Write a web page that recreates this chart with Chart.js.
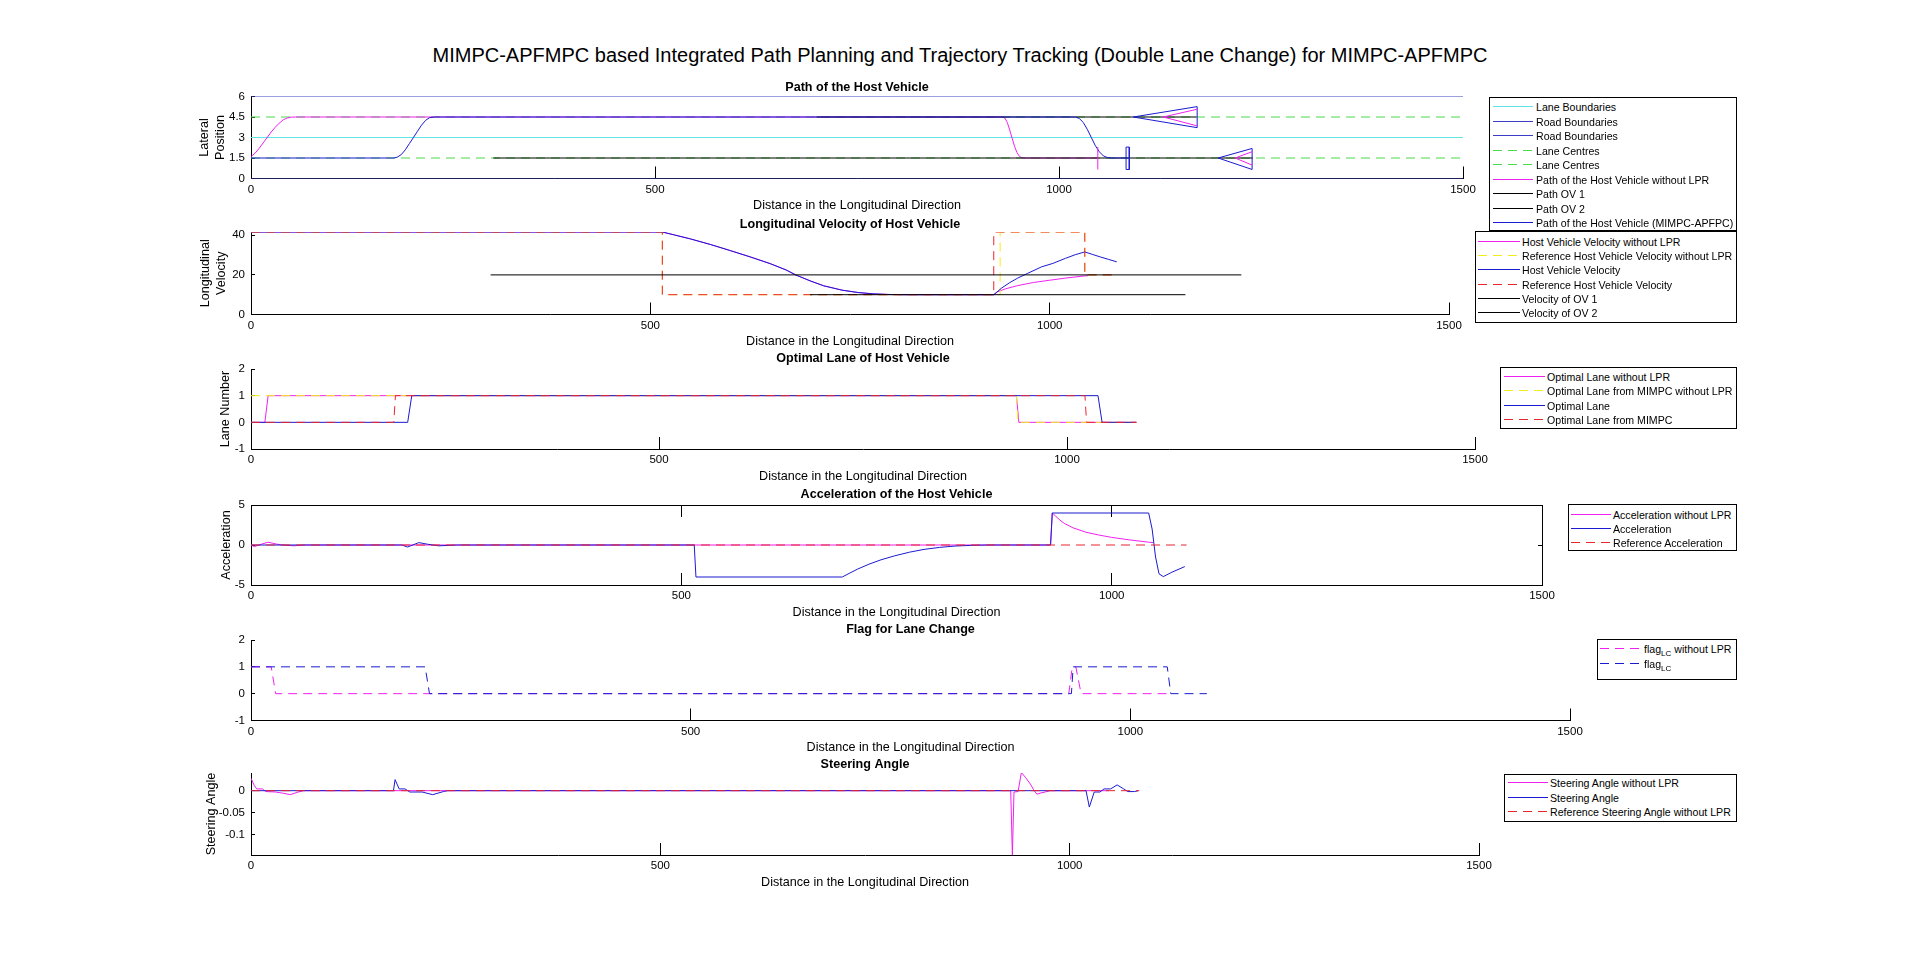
<!DOCTYPE html>
<html>
<head>
<meta charset="utf-8">
<script src="https://cdn.jsdelivr.net/npm/chart.js@4/dist/chart.umd.min.js"></script>
<style>
  html, body { margin:0; padding:0; background:#fff; }
  body { width:1920px; height:971px; overflow:hidden; position:relative; font-family:"Liberation Sans", Arial, Helvetica, sans-serif; }
  canvas.sp { position:absolute; left:0; top:0; }
  #mainTitle { position:absolute; left:0; top:42px; width:1920px; text-align:center; font-size:20px; line-height:26px; color:#000; }
  .legend { position:absolute; box-sizing:border-box; border:1px solid #000; background:#fff; font-size:10.6px; color:#000; }
  .legend span { position:absolute; white-space:nowrap; line-height:14px; }
  .legend sub { font-size:8px; vertical-align:-3px; line-height:0; }
</style>
</head>
<body>
<div id="mainTitle">MIMPC-APFMPC based Integrated Path Planning and Trajectory Tracking (Double Lane Change) for MIMPC-APFMPC</div>
<script>
// ---------------- data ----------------
const xTicks = [0, 500, 1000, 1500];

// Subplot 1: Path of the Host Vehicle
const yTicksPath = [0, 1.5, 3, 4.5, 6];
const roadX = [0, 1500];
const laneBoundaryY = [3, 3];
const roadBoundaryLowY = [0, 0];
const roadBoundaryHighY = [6, 6];
const laneCentreLowY = [1.5, 1.5];
const laneCentreHighY = [4.5, 4.5];
const pathNoLprX = [0, 5, 10, 15, 20, 25, 30, 35, 40, 45, 50, 55, 930, 933, 936, 939, 942, 945, 948, 951, 954, 957, 1048];
const pathNoLprY = [1.6, 1.85, 2.2, 2.6, 3.0, 3.4, 3.75, 4.05, 4.3, 4.43, 4.49, 4.5, 4.5, 4.42, 4.1, 3.55, 2.95, 2.35, 1.9, 1.62, 1.52, 1.5, 1.5];
const pathOv1X = [300, 1240];
const pathOv1Y = [1.5, 1.5];
const pathOv2X = [700, 1170];
const pathOv2Y = [4.5, 4.5];
const pathHostX = [0, 177, 181, 186, 191, 196, 201, 206, 211, 216, 221, 227, 1020, 1025, 1030, 1035, 1040, 1045, 1050, 1055, 1060, 1065, 1085];
const pathHostY = [1.5, 1.5, 1.56, 1.75, 2.1, 2.55, 3.0, 3.45, 3.9, 4.25, 4.45, 4.5, 4.5, 4.4, 4.1, 3.6, 3.0, 2.4, 1.95, 1.65, 1.53, 1.5, 1.5];
// vehicle outlines at the end of the runs
const ov2OutlineX = [1171, 1092, 1171, 1171];
const ov2OutlineY = [5.26, 4.5, 3.72, 5.26];
const ov2NoLprX = [1171, 1129, 1171];
const ov2NoLprY = [5.07, 4.5, 3.85];
const ov1OutlineX = [1239, 1197, 1239, 1239];
const ov1OutlineY = [2.2, 1.5, 0.66, 2.2];
const ov1NoLprX = [1239, 1218, 1239];
const ov1NoLprY = [1.96, 1.5, 0.98];
const hostNoLprMarkX = [1048, 1048];
const hostNoLprMarkY = [0.66, 2.3];
const hostMarkX = [1083, 1083, 1087, 1087, 1083];
const hostMarkY = [0.66, 2.3, 2.3, 0.66, 0.66];

// Subplot 2: Longitudinal velocity
const yTicksVel = [0, 20, 40];
const velSharedX = [0, 515, 530, 550, 575, 600, 625, 650, 670, 682, 700, 717, 740, 760, 780, 800, 820, 930];
const velSharedY = [41.67, 41.67, 40.2, 38.2, 35.4, 32.3, 29.1, 25.7, 22.5, 20.0, 17.0, 14.5, 12.3, 11.1, 10.4, 10.1, 10.0, 10.0];
const velNoLprTailX = [935, 945, 960, 980, 1000, 1020, 1044, 1048];
const velNoLprTailY = [11.5, 13.0, 14.6, 16.2, 17.3, 18.4, 19.5, 19.6];
const velHostTailX = [940, 950, 960, 972, 990, 1004, 1020, 1032, 1044, 1054, 1064, 1074, 1084];
const velHostTailY = [13.4, 16.1, 18.4, 20.7, 24.1, 25.8, 28.4, 30.2, 31.6, 30.3, 29.0, 27.8, 26.6];
const velRefNoLprX = [0, 515, 515, 938, 938, 1044, 1044, 1085];
const velRefNoLprY = [41.67, 41.67, 10, 10, 41.67, 41.67, 20, 20];
const velRefX = [0, 515, 515, 930, 930, 1044, 1044, 1085];
const velRefY = [41.67, 41.67, 10, 10, 41.67, 41.67, 20, 20];
const velOv1X = [300, 1240];
const velOv1Y = [20, 20];
const velOv2X = [700, 1170];
const velOv2Y = [10, 10];

// Subplot 3: Optimal lane
const yTicksLane = [-1, 0, 1, 2];
const laneNoLprX = [0, 17, 21, 938, 941, 1085];
const laneNoLprY = [0, 0, 1, 1, 0, 0];
const laneMimpcNoLprX = [0, 938, 940, 1085];
const laneMimpcNoLprY = [1, 1, 0, 0];
const laneHostX = [0, 192, 197, 1038, 1043, 1085];
const laneHostY = [0, 0, 1, 1, 0, 0];
const laneMimpcX = [0, 175, 177, 1022, 1024, 1085];
const laneMimpcY = [0, 0, 1, 1, 0, 0];

// Subplot 4: Acceleration
const yTicksAcc = [-5, 0, 5];
const accNoLprX = [0, 4, 12, 20, 28, 36, 50, 62, 929, 931, 935, 940, 945, 955, 970, 985, 1000, 1020, 1043, 1048];
const accNoLprY = [0, -0.2, 0.1, 0.35, 0.15, 0, -0.1, 0, 0, 4, 3.6, 3.1, 2.7, 2.15, 1.6, 1.25, 0.95, 0.65, 0.35, 0.3];
const accHostX = [0, 175, 182, 195, 205, 218, 240, 515, 517, 687, 695, 705, 718, 732, 748, 765, 782, 800, 818, 836, 855, 929, 931, 1043, 1047, 1051, 1055, 1060, 1070, 1085];
const accHostY = [0, 0, -0.25, 0.3, 0.1, -0.1, 0, 0, -4, -4, -3.55, -3.0, -2.4, -1.85, -1.35, -0.9, -0.55, -0.3, -0.13, -0.05, 0, 0, 4, 4, 2.0, -1.5, -3.6, -3.95, -3.4, -2.7];
const accRefX = [0, 1087];
const accRefY = [0, 0];

// Subplot 5: Flag for lane change
const yTicksFlag = [-1, 0, 1, 2];
const flagNoLprX = [0, 23, 28, 930, 934, 938, 944, 1048];
const flagNoLprY = [1, 1, 0, 0, 1, 1, 0, 0];
const flagX = [0, 198, 203, 933, 935, 1042, 1046, 1087];
const flagY = [1, 1, 0, 0, 1, 1, 0, 0];

// Subplot 6: Steering angle
const yTicksSteer = [-0.1, -0.05, 0];
const steerNoLprX = [0, 4, 7, 14, 18, 30, 40, 48, 56, 64, 928, 930, 932, 937, 941, 946, 952, 956, 960, 965, 970, 976, 1048];
const steerNoLprY = [0.028, 0.012, 0.004, 0.004, -0.002, -0.003, -0.006, -0.009, -0.004, 0, 0, -0.1455, -0.003, -0.002, 0.041, 0.03, 0.015, 0.002, -0.008, -0.005, -0.003, 0, 0];
const steerX = [0, 174, 176, 181, 188, 194, 209, 222, 235, 240, 1020, 1024, 1030, 1037, 1042, 1050, 1058, 1066, 1071, 1079, 1084];
const steerY = [0, 0, 0.025, 0.004, 0.004, -0.003, -0.003, -0.009, -0.002, 0, 0, -0.037, -0.003, -0.003, 0.004, 0.004, 0.013, 0.004, -0.002, -0.002, 0];
const steerRefX = [0, 1085];
const steerRefY = [0, 0];

// ---------------- styling ----------------
const FF = '"Liberation Sans", Arial, Helvetica, sans-serif';
const COL = {
  cyan: '#62e4e4', road: '#3c3cc6', green: '#4ad94a', magenta: '#f020f0',
  black: '#000000', navy: '#1a1ad0', red: '#e8262e', yellow: '#f2ec1c'
};
const DASH = [9, 6];
const TICK_FONT = 11.5, LABEL_FONT = 12.6, TITLE_FONT = 12.6;

function pts(xs, ys) { return xs.map((x, i) => ({ x: x, y: ys[i] })); }
function series(label, xs, ys, color, dash, extra) {
  return Object.assign({
    label: label, data: pts(xs, ys), borderColor: color, backgroundColor: color,
    borderWidth: 1, borderDash: dash || [], pointRadius: 0, tension: 0, fill: false,
    xAxisID: 'x', yAxisID: 'y'
  }, extra || {});
}

function makeChart(spec) {
  const cv = document.createElement('canvas');
  cv.width = 1920; cv.height = 971; cv.className = 'sp';
  document.body.appendChild(cv);
  const tLH = TITLE_FONT * 1.2;
  const padTop = spec.titleY - tLH / 2;
  const titleGap = spec.t - padTop - tLH;
  const xLH = LABEL_FONT * 1.2;
  const Hx = spec.xLabelY + xLH / 2 - spec.b;
  const yLH = LABEL_FONT * 1.2;
  const Wy = spec.yTitleX ? spec.l - (spec.yTitleX - yLH / 2) : 40;
  const n = spec.datasets.length;
  spec.datasets.forEach((d, i) => { d.order = n - i; });
  const tickFont = { size: TICK_FONT, family: FF };
  const scales = {
    x: {
      type: 'linear', position: 'bottom', min: 0, max: 1500,
      afterBuildTicks: s => { s.ticks = xTicks.map(v => ({ value: v })); },
      afterFit: s => { s.height = Hx; },
      grid: { display: true, drawOnChartArea: false, drawTicks: true, tickLength: -12, color: '#000', lineWidth: 1 },
      border: { display: true, color: '#000', width: 1 },
      ticks: { padding: 16, color: '#000', font: tickFont, maxRotation: 0, autoSkip: false, callback: v => String(v) },
      title: { display: true, text: 'Distance in the Longitudinal Direction', color: '#000', font: { size: LABEL_FONT, family: FF }, padding: 0 }
    },
    y: {
      type: 'linear', position: 'left', min: spec.ymin, max: spec.ymax,
      afterBuildTicks: s => { s.ticks = spec.yTicks.map(v => ({ value: v })); },
      afterFit: s => { s.width = Wy; },
      grid: { display: true, drawOnChartArea: false, drawTicks: true, tickLength: -4, color: '#000', lineWidth: 1 },
      border: { display: true, color: '#000', width: 1 },
      ticks: { padding: 10, color: '#000', font: tickFont, autoSkip: false, callback: v => String(v) },
      title: { display: !!spec.yTitle, text: spec.yTitle || '', color: '#000', font: { size: LABEL_FONT, family: FF }, padding: 0 }
    }
  };
  if (spec.box) {
    scales.x2 = {
      type: 'linear', position: 'top', min: 0, max: 1500,
      afterBuildTicks: s => { s.ticks = xTicks.map(v => ({ value: v })); },
      afterFit: s => { s.height = 0; },
      grid: { display: true, drawOnChartArea: false, drawTicks: true, tickLength: -12, color: '#000', lineWidth: 1 },
      border: { display: true, color: '#000', width: 1 },
      ticks: { display: false }
    };
    scales.y2 = {
      type: 'linear', position: 'right', min: spec.ymin, max: spec.ymax,
      afterBuildTicks: s => { s.ticks = spec.yTicks.map(v => ({ value: v })); },
      afterFit: s => { s.width = 0; },
      grid: { display: true, drawOnChartArea: false, drawTicks: true, tickLength: -4, color: '#000', lineWidth: 1 },
      border: { display: true, color: '#000', width: 1 },
      ticks: { display: false }
    };
  }
  const chart = new Chart(cv.getContext('2d'), {
    type: 'line',
    data: { datasets: spec.datasets },
    options: {
      responsive: false, animation: false, devicePixelRatio: 1, events: [],
      layout: { padding: { left: spec.l - Wy, right: 1920 - spec.r, top: padTop, bottom: 971 - (spec.b + Hx) } },
      plugins: {
        legend: { display: false }, tooltip: { enabled: false },
        title: { display: true, text: spec.title, fullSize: false, color: '#000', font: { size: TITLE_FONT, weight: 'bold', family: FF }, padding: { top: 0, bottom: titleGap } }
      },
      scales: scales
    }
  });
  buildLegend(chart, spec.legend);
  return chart;
}

function buildLegend(chart, L) {
  const box = document.createElement('div');
  box.className = 'legend';
  box.style.left = L.left + 'px'; box.style.top = L.top + 'px';
  box.style.width = L.width + 'px'; box.style.height = L.height + 'px';
  const items = chart.data.datasets.filter(d => d.label);
  let svg = '<svg width="' + L.width + '" height="' + L.height + '" style="position:absolute;left:-1px;top:-1px">';
  let spans = '';
  items.forEach((d, i) => {
    const y = Math.round(L.row0 + i * L.step - L.top) + 0.5;
    const dash = d.borderDash && d.borderDash.length ? ' stroke-dasharray="' + d.borderDash.join(',') + '"' : '';
    svg += '<line x1="' + (L.lx0 - L.left) + '" x2="' + (L.lx1 - L.left) + '" y1="' + y + '" y2="' + y + '" stroke="' + d.borderColor + '" stroke-width="1"' + dash + '/>';
    spans += '<span style="left:' + (L.tx - L.left - 1) + 'px;top:' + (y - 8) + 'px">' + (d.legendHTML || d.label) + '</span>';
  });
  svg += '</svg>';
  box.innerHTML = svg + spans;
  document.body.appendChild(box);
}

// ---------------- subplots ----------------
makeChart({
  l: 251, r: 1463, t: 96.5, b: 178.5, ymin: 0, ymax: 6, yTicks: yTicksPath,
  title: 'Path of the Host Vehicle', titleY: 88, xLabelY: 206, yTitle: ['Lateral', 'Position'], yTitleX: 205,
  datasets: [
    series('Lane Boundaries', roadX, laneBoundaryY, COL.cyan),
    series('Road Boundaries', roadX, roadBoundaryLowY, COL.road),
    series('Road Boundaries', roadX, roadBoundaryHighY, COL.road),
    series('Lane Centres', roadX, laneCentreLowY, COL.green, DASH),
    series('Lane Centres', roadX, laneCentreHighY, COL.green, DASH),
    series('Path of the Host Vehicle without LPR', pathNoLprX, pathNoLprY, COL.magenta),
    series('Path OV 1', pathOv1X, pathOv1Y, COL.black),
    series('Path OV 2', pathOv2X, pathOv2Y, COL.black),
    series('Path of the Host Vehicle (MIMPC-APFPC)', pathHostX, pathHostY, COL.navy),
    series('', ov2OutlineX, ov2OutlineY, COL.navy),
    series('', ov2NoLprX, ov2NoLprY, COL.magenta),
    series('', ov1OutlineX, ov1OutlineY, COL.navy),
    series('', ov1NoLprX, ov1NoLprY, COL.magenta),
    series('', hostNoLprMarkX, hostNoLprMarkY, COL.magenta),
    series('', hostMarkX, hostMarkY, COL.navy)
  ],
  legend: { left: 1489, top: 97, width: 248, height: 134, row0: 106, step: 14.5, lx0: 1493, lx1: 1533, tx: 1536 }
});

makeChart({
  l: 251, r: 1449, t: 232, b: 314.5, ymin: 0, ymax: 41.67, yTicks: yTicksVel,
  title: 'Longitudinal Velocity of Host Vehicle', titleY: 225, xLabelY: 341.5, yTitle: ['Longitudinal', 'Velocity'], yTitleX: 206,
  datasets: [
    series('Host Vehicle Velocity without LPR', velSharedX.concat(velNoLprTailX), velSharedY.concat(velNoLprTailY), COL.magenta),
    series('Reference Host Vehicle Velocity without LPR', velRefNoLprX, velRefNoLprY, COL.yellow, DASH),
    series('Host Vehicle Velocity', velSharedX.concat(velHostTailX), velSharedY.concat(velHostTailY), COL.navy),
    series('Reference Host Vehicle Velocity', velRefX, velRefY, COL.red, DASH),
    series('Velocity of OV 1', velOv1X, velOv1Y, COL.black),
    series('Velocity of OV 2', velOv2X, velOv2Y, COL.black)
  ],
  legend: { left: 1475, top: 231, width: 262, height: 92, row0: 241, step: 14.2, lx0: 1478, lx1: 1520, tx: 1522 }
});

makeChart({
  l: 251, r: 1475, t: 369, b: 449, ymin: -1, ymax: 2, yTicks: yTicksLane,
  title: 'Optimal Lane of Host Vehicle', titleY: 358.5, xLabelY: 476.5, yTitle: 'Lane Number', yTitleX: 226,
  datasets: [
    series('Optimal Lane without LPR', laneNoLprX, laneNoLprY, COL.magenta),
    series('Optimal Lane from MIMPC without LPR', laneMimpcNoLprX, laneMimpcNoLprY, COL.yellow, DASH),
    series('Optimal Lane', laneHostX, laneHostY, COL.navy),
    series('Optimal Lane from MIMPC', laneMimpcX, laneMimpcY, COL.red, DASH)
  ],
  legend: { left: 1500, top: 367, width: 237, height: 62, row0: 376, step: 14.3, lx0: 1504, lx1: 1545, tx: 1547 }
});

makeChart({
  l: 251, r: 1542, t: 505, b: 585, ymin: -5, ymax: 5, yTicks: yTicksAcc, box: true,
  title: 'Acceleration of the Host Vehicle', titleY: 495, xLabelY: 612.5, yTitle: 'Acceleration', yTitleX: 227,
  datasets: [
    series('Acceleration without LPR', accNoLprX, accNoLprY, COL.magenta),
    series('Acceleration', accHostX, accHostY, COL.navy),
    series('Reference Acceleration', accRefX, accRefY, COL.red, DASH)
  ],
  legend: { left: 1568, top: 504, width: 169, height: 47, row0: 514, step: 14, lx0: 1571, lx1: 1611, tx: 1613 }
});

makeChart({
  l: 251, r: 1570, t: 640, b: 720.5, ymin: -1, ymax: 2, yTicks: yTicksFlag,
  title: 'Flag for Lane Change', titleY: 630, xLabelY: 747.5, yTitle: null, yTitleX: null,
  datasets: [
    series('flagLC without LPR', flagNoLprX, flagNoLprY, COL.magenta, DASH, { legendHTML: 'flag<sub>LC</sub> without LPR' }),
    series('flagLC', flagX, flagY, COL.navy, DASH, { legendHTML: 'flag<sub>LC</sub>' })
  ],
  legend: { left: 1597, top: 639, width: 140, height: 41, row0: 648, step: 15, lx0: 1600, lx1: 1642, tx: 1644 }
});

makeChart({
  l: 251, r: 1479, t: 773, b: 855, ymin: -0.1455, ymax: 0.04, yTicks: yTicksSteer,
  title: 'Steering Angle', titleY: 765, xLabelY: 883, yTitle: 'Steering Angle', yTitleX: 212,
  datasets: [
    series('Steering Angle without LPR', steerNoLprX, steerNoLprY, COL.magenta),
    series('Steering Angle', steerX, steerY, COL.navy),
    series('Reference Steering Angle without LPR', steerRefX, steerRefY, COL.red, DASH)
  ],
  legend: { left: 1504, top: 774, width: 233, height: 48, row0: 782, step: 14.5, lx0: 1508, lx1: 1548, tx: 1550 }
});
</script>
</body>
</html>
